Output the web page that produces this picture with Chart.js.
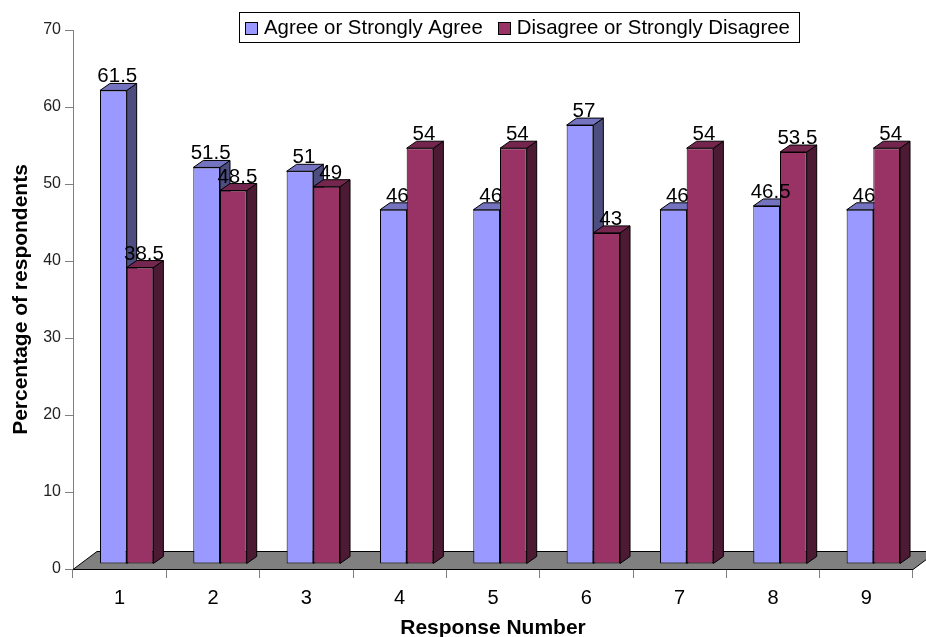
<!DOCTYPE html>
<html><head><meta charset="utf-8">
<script src="https://cdn.jsdelivr.net/npm/chart.js@4.4.1/dist/chart.umd.min.js"></script>
<style>html,body{margin:0;padding:0;background:#fff;} canvas{display:block;}</style>
</head><body>
<canvas id="c" width="926" height="637"></canvas>
<script>
const categories = ['1','2','3','4','5','6','7','8','9'];
const agreeValues = [61.5, 51.5, 51, 46, 46, 57, 46, 46.5, 46];
const disagreeValues = [38.5, 48.5, 49, 54, 54, 43, 54, 53.5, 54];
const seriesNames = ['Agree or Strongly Agree', 'Disagree or Strongly Disagree'];
const yTicks = [0, 10, 20, 30, 40, 50, 60, 70];
const xTitle = 'Response Number';
const yTitle = 'Percentage of respondents';

const FONT = "'Liberation Sans', Arial, sans-serif";
const frontColors = ['#9999FF', '#993366'];
const sideColors = ['#4D4D80', '#4D1A33'];
const topColors = ['#7373C0', '#74264F'];
const SHIFT_X = 7, SHIFT_Y = -5, DEPTH_X = 10, DEPTH_Y = 7;

function drawFaces(ctx, el, i) {
  const p = el.getProps(['x', 'y', 'base', 'width'], true);
  const half = p.width / 2;
  const l = p.x - half, r = p.x + half, t = p.y, b = p.base;
  ctx.lineWidth = 1; ctx.strokeStyle = '#000'; ctx.lineJoin = 'miter';
  ctx.beginPath();
  ctx.moveTo(r, t); ctx.lineTo(r + DEPTH_X, t - DEPTH_Y); ctx.lineTo(r + DEPTH_X, b - DEPTH_Y); ctx.lineTo(r, b); ctx.closePath();
  ctx.fillStyle = sideColors[i]; ctx.fill(); ctx.stroke();
  ctx.beginPath();
  ctx.moveTo(l, t); ctx.lineTo(l + DEPTH_X, t - DEPTH_Y); ctx.lineTo(r + DEPTH_X, t - DEPTH_Y); ctx.lineTo(r, t); ctx.closePath();
  ctx.fillStyle = topColors[i]; ctx.fill(); ctx.stroke();
}

const bar3d = {
  id: 'bar3d',
  beforeDatasetsDraw(chart) {
    const ctx = chart.ctx, ca = chart.chartArea;
    ctx.save();
    ctx.beginPath();
    ctx.moveTo(ca.left, ca.bottom + 0.5);
    ctx.lineTo(ca.left + 24, ca.bottom - 17.5);
    ctx.lineTo(ca.right + 24, ca.bottom - 17.5);
    ctx.lineTo(ca.right, ca.bottom + 0.5);
    ctx.closePath();
    ctx.fillStyle = '#808080'; ctx.fill();
    ctx.strokeStyle = '#000'; ctx.lineWidth = 1; ctx.stroke();
    ctx.restore();
    ctx.save();
    ctx.translate(SHIFT_X, SHIFT_Y);
    chart.getDatasetMeta(0).data.forEach(el => drawFaces(ctx, el, 0));
  },
  afterDatasetsDraw(chart) {
    const ctx = chart.ctx;
    chart.getDatasetMeta(1).data.forEach(el => drawFaces(ctx, el, 1));
    ctx.fillStyle = '#000';
    ctx.font = '20.5px ' + FONT;
    ctx.textAlign = 'center';
    ctx.textBaseline = 'alphabetic';
    chart.data.datasets.forEach((ds, i) => {
      chart.getDatasetMeta(i).data.forEach((el, j) => {
        const p = el.getProps(['x', 'y'], true);
        ctx.fillText(String(ds.data[j]), p.x + 4, p.y - 8);
      });
    });
    ctx.restore();
  },
  afterDraw(chart) {
    const ctx = chart.ctx;
    ctx.save();
    ctx.font = '20.4px ' + FONT;
    const x0 = 239, y0 = 12, h = 30, sw = 12, pad = 6, gap = 7, between = 15;
    const widths = seriesNames.map(n => ctx.measureText(n).width);
    const W = pad + sw + gap + widths[0] + between + sw + gap + widths[1] + pad + 3;
    ctx.fillStyle = '#fff';
    ctx.fillRect(x0, y0, W, h);
    ctx.strokeStyle = '#000'; ctx.lineWidth = 1;
    ctx.strokeRect(x0 + 0.5, y0 + 0.5, Math.round(W), h);
    let x = x0 + pad;
    seriesNames.forEach((n, i) => {
      ctx.fillStyle = frontColors[i];
      ctx.fillRect(Math.round(x) + 0.5, 22.5, sw, sw);
      ctx.strokeRect(Math.round(x) + 0.5, 22.5, sw, sw);
      x += sw + gap;
      ctx.fillStyle = '#000';
      ctx.textAlign = 'left';
      ctx.textBaseline = 'alphabetic';
      ctx.fillText(n, x, 34);
      x += widths[i] + between;
    });
    ctx.restore();
  }
};

new Chart(document.getElementById('c'), {
  type: 'bar',
  data: {
    labels: categories,
    datasets: [
      { label: seriesNames[0], data: agreeValues, backgroundColor: frontColors[0], borderColor: '#000', borderWidth: 1, borderSkipped: false, clip: false },
      { label: seriesNames[1], data: disagreeValues, backgroundColor: frontColors[1], borderColor: '#000', borderWidth: 1, borderSkipped: false, clip: false }
    ]
  },
  options: {
    responsive: false,
    animation: false,
    devicePixelRatio: 1,
    layout: { padding: { top: 30, right: 13, bottom: 0, left: 0 } },
    plugins: { legend: { display: false }, tooltip: { enabled: false } },
    datasets: { bar: { categoryPercentage: 0.572, barPercentage: 1 } },
    scales: {
      x: {
        grid: { display: true, drawOnChartArea: false, drawTicks: true, tickLength: 9, color: '#808080', offset: true },
        border: { display: false },
        ticks: { font: { family: FONT, size: 20 }, color: '#000', padding: 8 },
        title: { display: true, text: xTitle, font: { family: FONT, size: 21, weight: 'bold' }, color: '#000', padding: { top: 0, bottom: -4 } },
        afterFit(s) { s.height = 68; }
      },
      y: {
        min: 0, max: 70,
        afterBuildTicks(s) { s.ticks = yTicks.map(v => ({ value: v })); },
        ticks: { font: { family: FONT, size: 16 }, color: '#222', padding: 4 },
        grid: { drawOnChartArea: false, tickLength: 8, color: '#808080' },
        border: { color: '#808080' },
        title: { display: true, text: yTitle, font: { family: FONT, size: 21, weight: 'bold' }, color: '#000', padding: { top: 9, bottom: 0 } },
        afterFit(s) { s.width = 73; }
      }
    }
  },
  plugins: [bar3d]
});
</script>
</body></html>
